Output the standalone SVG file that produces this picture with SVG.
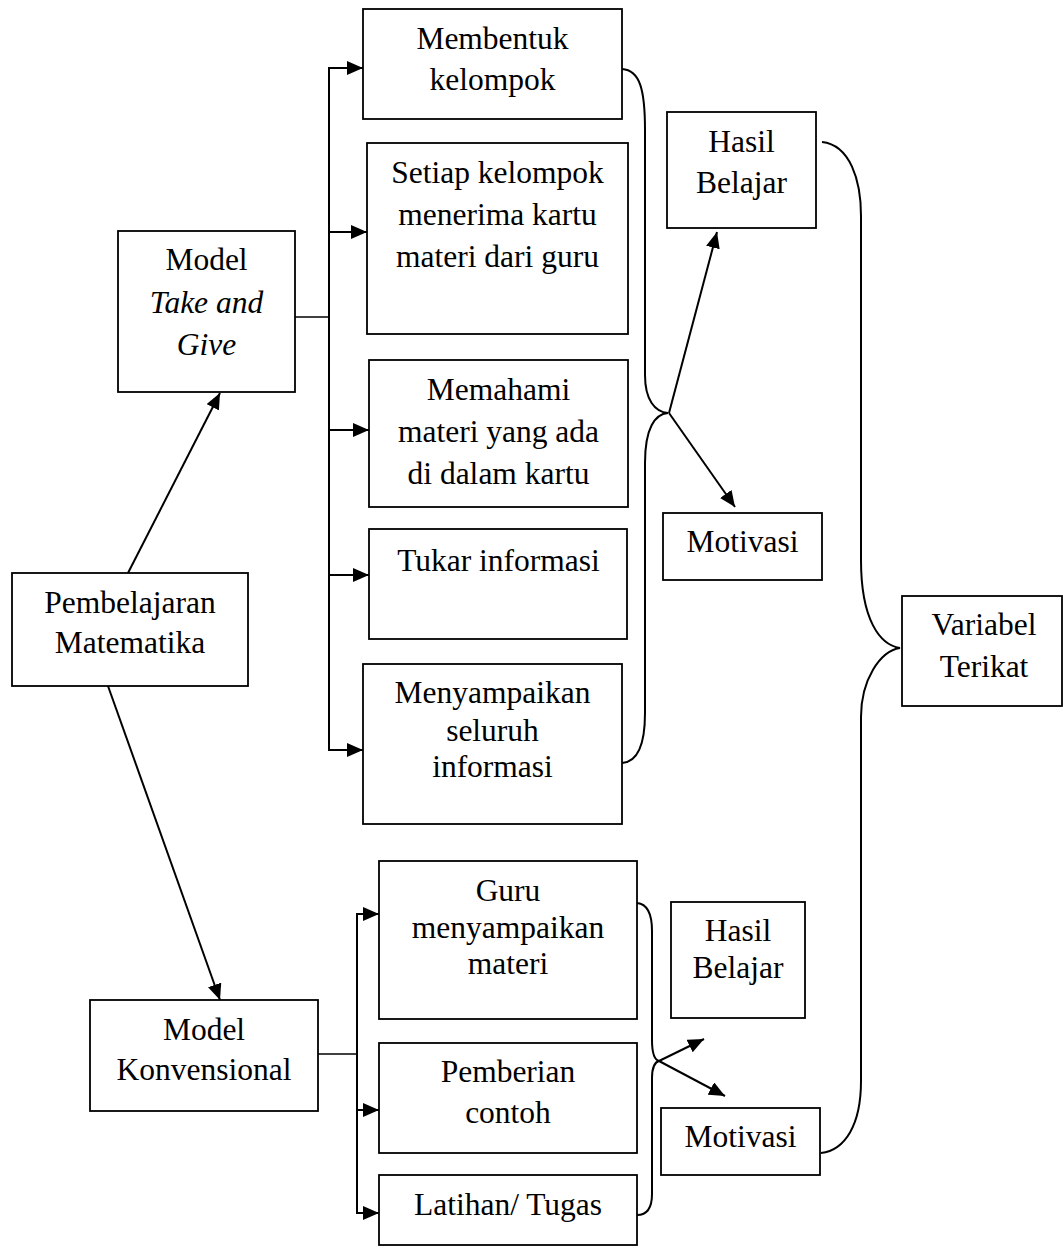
<svg xmlns="http://www.w3.org/2000/svg" width="1063" height="1249" viewBox="0 0 1063 1249">
<style>
.box{fill:#fff;stroke:#000;stroke-width:1.8}
.t{font-family:"Liberation Serif","Times New Roman",serif;font-size:31.5px;fill:#000;text-anchor:middle}
.i{font-style:italic}
.ln{fill:none;stroke:#000;stroke-width:2}
.thin{fill:none;stroke:#000;stroke-width:1.4}
</style>
<defs>
<marker id="ah" markerUnits="userSpaceOnUse" markerWidth="16" markerHeight="14" refX="16" refY="7" orient="auto">
<path d="M0,0 L16,7 L0,14 z" fill="#000"/>
</marker>
</defs>
<rect width="1063" height="1249" fill="#fff"/>
<g id="connectors">
<line class="ln" x1="128" y1="573" x2="220" y2="393" marker-end="url(#ah)"/>
<line class="ln" x1="108" y1="686" x2="220" y2="1000" marker-end="url(#ah)"/>
<line class="thin" x1="295" y1="317" x2="329" y2="317"/>
<line class="ln" x1="329" y1="68" x2="329" y2="751"/>
<line class="ln" x1="328" y1="68" x2="363" y2="68" marker-end="url(#ah)"/>
<line class="ln" x1="329" y1="232" x2="367" y2="232" marker-end="url(#ah)"/>
<line class="ln" x1="329" y1="430" x2="369" y2="430" marker-end="url(#ah)"/>
<line class="ln" x1="329" y1="575" x2="369" y2="575" marker-end="url(#ah)"/>
<line class="ln" x1="328" y1="750" x2="363" y2="750" marker-end="url(#ah)"/>
<path class="ln" d="M622,69 C640,70 645,90 645,130 L645,375 C645,400 655,412 668,413 C655,414 645,428 645,463 L645,713 C645,745 638,762 622,763"/>
<line class="ln" x1="669" y1="413" x2="717" y2="232" marker-end="url(#ah)"/>
<line class="ln" x1="669" y1="413" x2="735" y2="507" marker-end="url(#ah)"/>
<path class="ln" d="M822,142 C850,145 861,180 861,216 L861,560 C861,620 880,645 900,648 C880,651 861,680 861,717 L861,1081 C861,1125 845,1150 821,1153"/>
<line class="thin" x1="318" y1="1054" x2="357" y2="1054"/>
<line class="ln" x1="357" y1="914" x2="357" y2="1214"/>
<line class="ln" x1="356" y1="914" x2="379" y2="914" marker-end="url(#ah)"/>
<line class="ln" x1="357" y1="1110" x2="379" y2="1110" marker-end="url(#ah)"/>
<line class="ln" x1="357" y1="1213" x2="379" y2="1213" marker-end="url(#ah)"/>
<path class="ln" d="M637,903 C648,904 652,915 652,931 L652,1040 C652,1053 655,1060 659,1061 C655,1062 652,1068 652,1078 L652,1194 C652,1208 647,1215 637,1215"/>
<line class="ln" x1="659" y1="1061" x2="704" y2="1039" marker-end="url(#ah)"/>
<line class="ln" x1="659" y1="1061" x2="725" y2="1096" marker-end="url(#ah)"/>
</g>
<g id="pembelajaran">
<rect class="box" x="12" y="573" width="236" height="113"/>
<text class="t" x="130" y="613">Pembelajaran</text>
<text class="t" x="130" y="653">Matematika</text>
</g>
<g id="model-tag">
<rect class="box" x="118" y="231" width="177" height="161"/>
<text class="t" x="206.5" y="270">Model</text>
<text class="t i" x="206.5" y="313">Take and</text>
<text class="t i" x="206.5" y="355">Give</text>
</g>
<g id="membentuk">
<rect class="box" x="363" y="9" width="259" height="110"/>
<text class="t" x="492.5" y="49">Membentuk</text>
<text class="t" x="492.5" y="90">kelompok</text>
</g>
<g id="setiap">
<rect class="box" x="367" y="143" width="261" height="191"/>
<text class="t" x="497.5" y="183">Setiap kelompok</text>
<text class="t" x="497.5" y="225">menerima kartu</text>
<text class="t" x="497.5" y="267">materi dari guru</text>
</g>
<g id="memahami">
<rect class="box" x="369" y="360" width="259" height="147"/>
<text class="t" x="498.5" y="400">Memahami</text>
<text class="t" x="498.5" y="442">materi yang ada</text>
<text class="t" x="498.5" y="484">di dalam kartu</text>
</g>
<g id="tukar">
<rect class="box" x="369" y="529" width="258" height="110"/>
<text class="t" x="498.5" y="571">Tukar informasi</text>
</g>
<g id="menyampaikan">
<rect class="box" x="363" y="664" width="259" height="160"/>
<text class="t" x="492.5" y="703">Menyampaikan</text>
<text class="t" x="492.5" y="741">seluruh</text>
<text class="t" x="492.5" y="777">informasi</text>
</g>
<g id="hasil1">
<rect class="box" x="667" y="112" width="149" height="116"/>
<text class="t" x="741.5" y="152">Hasil</text>
<text class="t" x="741.5" y="193">Belajar</text>
</g>
<g id="motivasi1">
<rect class="box" x="663" y="513" width="159" height="67"/>
<text class="t" x="742.5" y="552">Motivasi</text>
</g>
<g id="variabel">
<rect class="box" x="902" y="596" width="160" height="110"/>
<text class="t" x="984" y="635">Variabel</text>
<text class="t" x="984" y="677">Terikat</text>
</g>
<g id="model-konv">
<rect class="box" x="90" y="1000" width="228" height="111"/>
<text class="t" x="204" y="1040">Model</text>
<text class="t" x="204" y="1080">Konvensional</text>
</g>
<g id="guru">
<rect class="box" x="379" y="861" width="258" height="158"/>
<text class="t" x="508" y="901">Guru</text>
<text class="t" x="508" y="938">menyampaikan</text>
<text class="t" x="508" y="974">materi</text>
</g>
<g id="pemberian">
<rect class="box" x="379" y="1043" width="258" height="110"/>
<text class="t" x="508" y="1082">Pemberian</text>
<text class="t" x="508" y="1123">contoh</text>
</g>
<g id="latihan">
<rect class="box" x="379" y="1175" width="258" height="70"/>
<text class="t" x="508" y="1215">Latihan/ Tugas</text>
</g>
<g id="hasil2">
<rect class="box" x="671" y="902" width="134" height="116"/>
<text class="t" x="738" y="941">Hasil</text>
<text class="t" x="738" y="978">Belajar</text>
</g>
<g id="motivasi2">
<rect class="box" x="661" y="1108" width="159" height="67"/>
<text class="t" x="740.5" y="1147">Motivasi</text>
</g>
</svg>
